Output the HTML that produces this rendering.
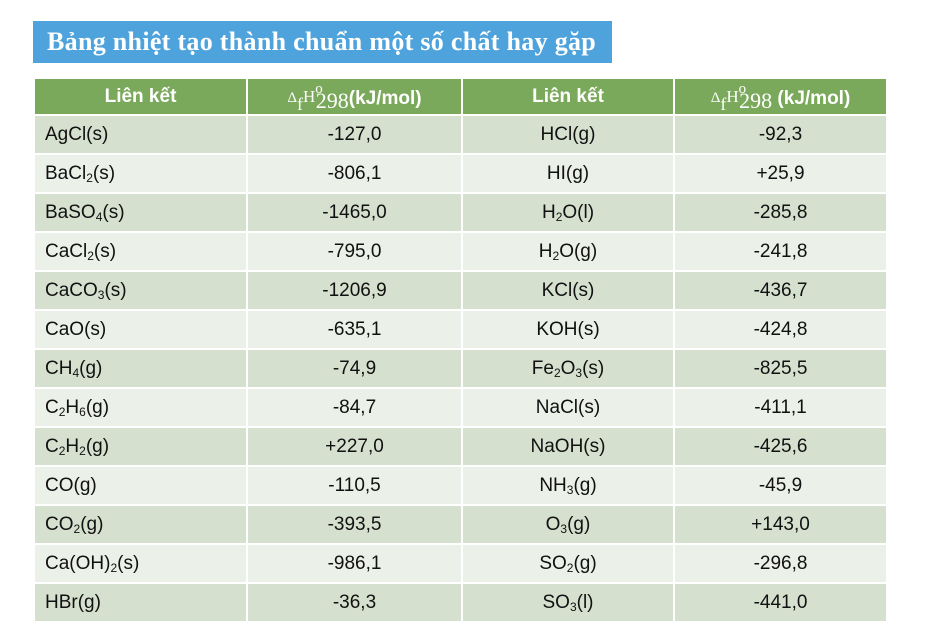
<!DOCTYPE html>
<html><head><meta charset="utf-8"><style>
body{margin:0;width:929px;height:641px;background:#fff;position:relative;overflow:hidden;font-family:"Liberation Sans",sans-serif}
#title{position:absolute;left:33px;top:21px;width:579px;height:42px;background:#4fa3dc;color:#fff;font-family:"Liberation Serif",serif;font-weight:bold;font-size:26px;letter-spacing:0.3px;line-height:42px;padding-left:14px;box-sizing:border-box}
table{position:absolute;left:33px;top:77px;width:853px;border-collapse:collapse;table-layout:fixed}
td,th{border:2px solid #fff;font-size:19px;color:#111;padding:0;height:37px}
th{background:#7ba95b;color:#fff;font-weight:bold;height:35px}
tr:nth-child(even) td{background:#d5e0cf}
tr:nth-child(odd) td{background:#ebf0e8}
td.n{padding-left:10px;text-align:left}
td.c{text-align:center}
.dh{font-family:"Liberation Serif",serif;font-weight:normal;position:relative;top:-2px}
.dh .d{font-size:15px}
.dh .f{font-size:18px;position:relative;top:8px}
.dh .h{font-size:17px}
.dh .o{font-size:15px;position:relative;top:-9px;margin-right:-7px}
.dh .t{font-size:22px;position:relative;top:6px}
sub{font-size:12px;vertical-align:-3px;line-height:0}
</style></head><body>
<div id="title">Bảng nhiệt tạo thành chuẩn một số chất hay gặp</div>
<table>
<colgroup><col style="width:213px"><col style="width:215px"><col style="width:212px"><col style="width:213px"></colgroup>
<tr><th>Liên kết</th><th><span class="dh"><span class="d">Δ</span><span class="f">f</span><span class="h">H</span><span class="o">o</span><span class="t">298</span></span>(kJ/mol)</th><th>Liên kết</th><th><span class="dh"><span class="d">Δ</span><span class="f">f</span><span class="h">H</span><span class="o">o</span><span class="t">298</span></span> (kJ/mol)</th></tr>
<tr><td class="n">AgCl(s)</td><td class="c">-127,0</td><td class="c">HCl(g)</td><td class="c">-92,3</td></tr>
<tr><td class="n">BaCl<sub>2</sub>(s)</td><td class="c">-806,1</td><td class="c">HI(g)</td><td class="c">+25,9</td></tr>
<tr><td class="n">BaSO<sub>4</sub>(s)</td><td class="c">-1465,0</td><td class="c">H<sub>2</sub>O(l)</td><td class="c">-285,8</td></tr>
<tr><td class="n">CaCl<sub>2</sub>(s)</td><td class="c">-795,0</td><td class="c">H<sub>2</sub>O(g)</td><td class="c">-241,8</td></tr>
<tr><td class="n">CaCO<sub>3</sub>(s)</td><td class="c">-1206,9</td><td class="c">KCl(s)</td><td class="c">-436,7</td></tr>
<tr><td class="n">CaO(s)</td><td class="c">-635,1</td><td class="c">KOH(s)</td><td class="c">-424,8</td></tr>
<tr><td class="n">CH<sub>4</sub>(g)</td><td class="c">-74,9</td><td class="c">Fe<sub>2</sub>O<sub>3</sub>(s)</td><td class="c">-825,5</td></tr>
<tr><td class="n">C<sub>2</sub>H<sub>6</sub>(g)</td><td class="c">-84,7</td><td class="c">NaCl(s)</td><td class="c">-411,1</td></tr>
<tr><td class="n">C<sub>2</sub>H<sub>2</sub>(g)</td><td class="c">+227,0</td><td class="c">NaOH(s)</td><td class="c">-425,6</td></tr>
<tr><td class="n">CO(g)</td><td class="c">-110,5</td><td class="c">NH<sub>3</sub>(g)</td><td class="c">-45,9</td></tr>
<tr><td class="n">CO<sub>2</sub>(g)</td><td class="c">-393,5</td><td class="c">O<sub>3</sub>(g)</td><td class="c">+143,0</td></tr>
<tr><td class="n">Ca(OH)<sub>2</sub>(s)</td><td class="c">-986,1</td><td class="c">SO<sub>2</sub>(g)</td><td class="c">-296,8</td></tr>
<tr><td class="n">HBr(g)</td><td class="c">-36,3</td><td class="c">SO<sub>3</sub>(l)</td><td class="c">-441,0</td></tr>
</table>
</body></html>
